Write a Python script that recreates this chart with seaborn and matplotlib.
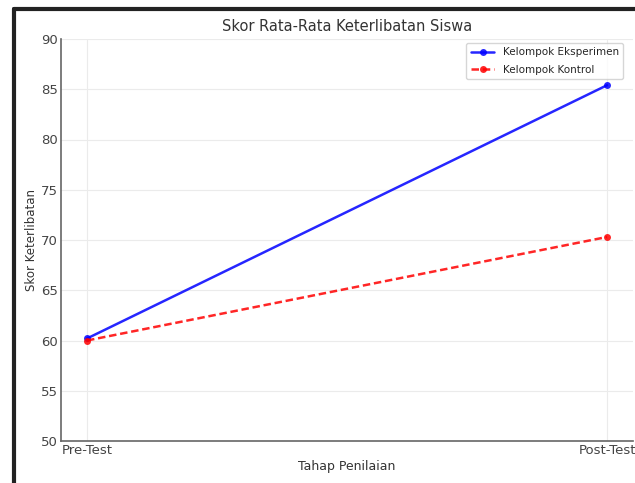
import seaborn as sns
import matplotlib.pyplot as plt
import matplotlib.lines as mlines
import pandas as pd

# data
tahap = ['Pre-Test', 'Post-Test']
eksperimen = [60.2, 85.4]
kontrol = [60.0, 70.3]

sns.set_style('whitegrid', {'grid.color': '#ebebeb', 'axes.edgecolor': '#555555'})
plt.rcParams['font.family'] = ['DejaVu Sans']

df = pd.DataFrame({
    'Tahap': tahap * 2,
    'Skor': eksperimen + kontrol,
    'Kelompok': ['Kelompok Eksperimen'] * 2 + ['Kelompok Kontrol'] * 2,
})

fig = plt.figure(figsize=(6.35, 4.83), dpi=100)
ax = fig.add_axes([61 / 635, 42 / 483, 572 / 635, 402 / 483])

sns.lineplot(data=df, x='Tahap', y='Skor', hue='Kelompok', style='Kelompok',
             palette=['blue', 'red'], dashes=[(None, None), (3, 1.5)],
             markers=['o', 'o'], markersize=5, markeredgewidth=0,
             linewidth=1.8, alpha=0.85, ax=ax)

ax.set_ylim(50, 90)
ax.set_xlim(-0.05, 1.05)
ax.set_title('Skor Rata-Rata Keterlibatan Siswa', fontsize=10.5, color='#333333', pad=6)
ax.set_xlabel('Tahap Penilaian', fontsize=9, color='#333333', labelpad=2)
ax.set_ylabel('Skor Keterlibatan', fontsize=8.5, color='#333333', labelpad=2)
ax.tick_params(axis='both', labelsize=9.5, colors='#444444', length=3,
               direction='in', pad=2, color='#777777')
for side in ['top', 'right']:
    ax.spines[side].set_visible(False)
for side in ['left', 'bottom']:
    ax.spines[side].set_color('#666666')
    ax.spines[side].set_linewidth(1.2)

leg = ax.legend(loc='upper right', fontsize=7.5, frameon=True, title=None,
                handlelength=2.3, labelspacing=0.7, borderaxespad=0.4,
                bbox_to_anchor=(0.99, 1.0))
leg.get_frame().set_edgecolor('#cccccc')

# dark border of the screenshot
fig.add_artist(mlines.Line2D([14 / 635, 14 / 635], [0, 1 - 9 / 483], color='#222222', lw=3))
fig.add_artist(mlines.Line2D([14 / 635, 1], [1 - 9 / 483, 1 - 9 / 483], color='#222222', lw=3))

fig.savefig('out.png', dpi=100)
